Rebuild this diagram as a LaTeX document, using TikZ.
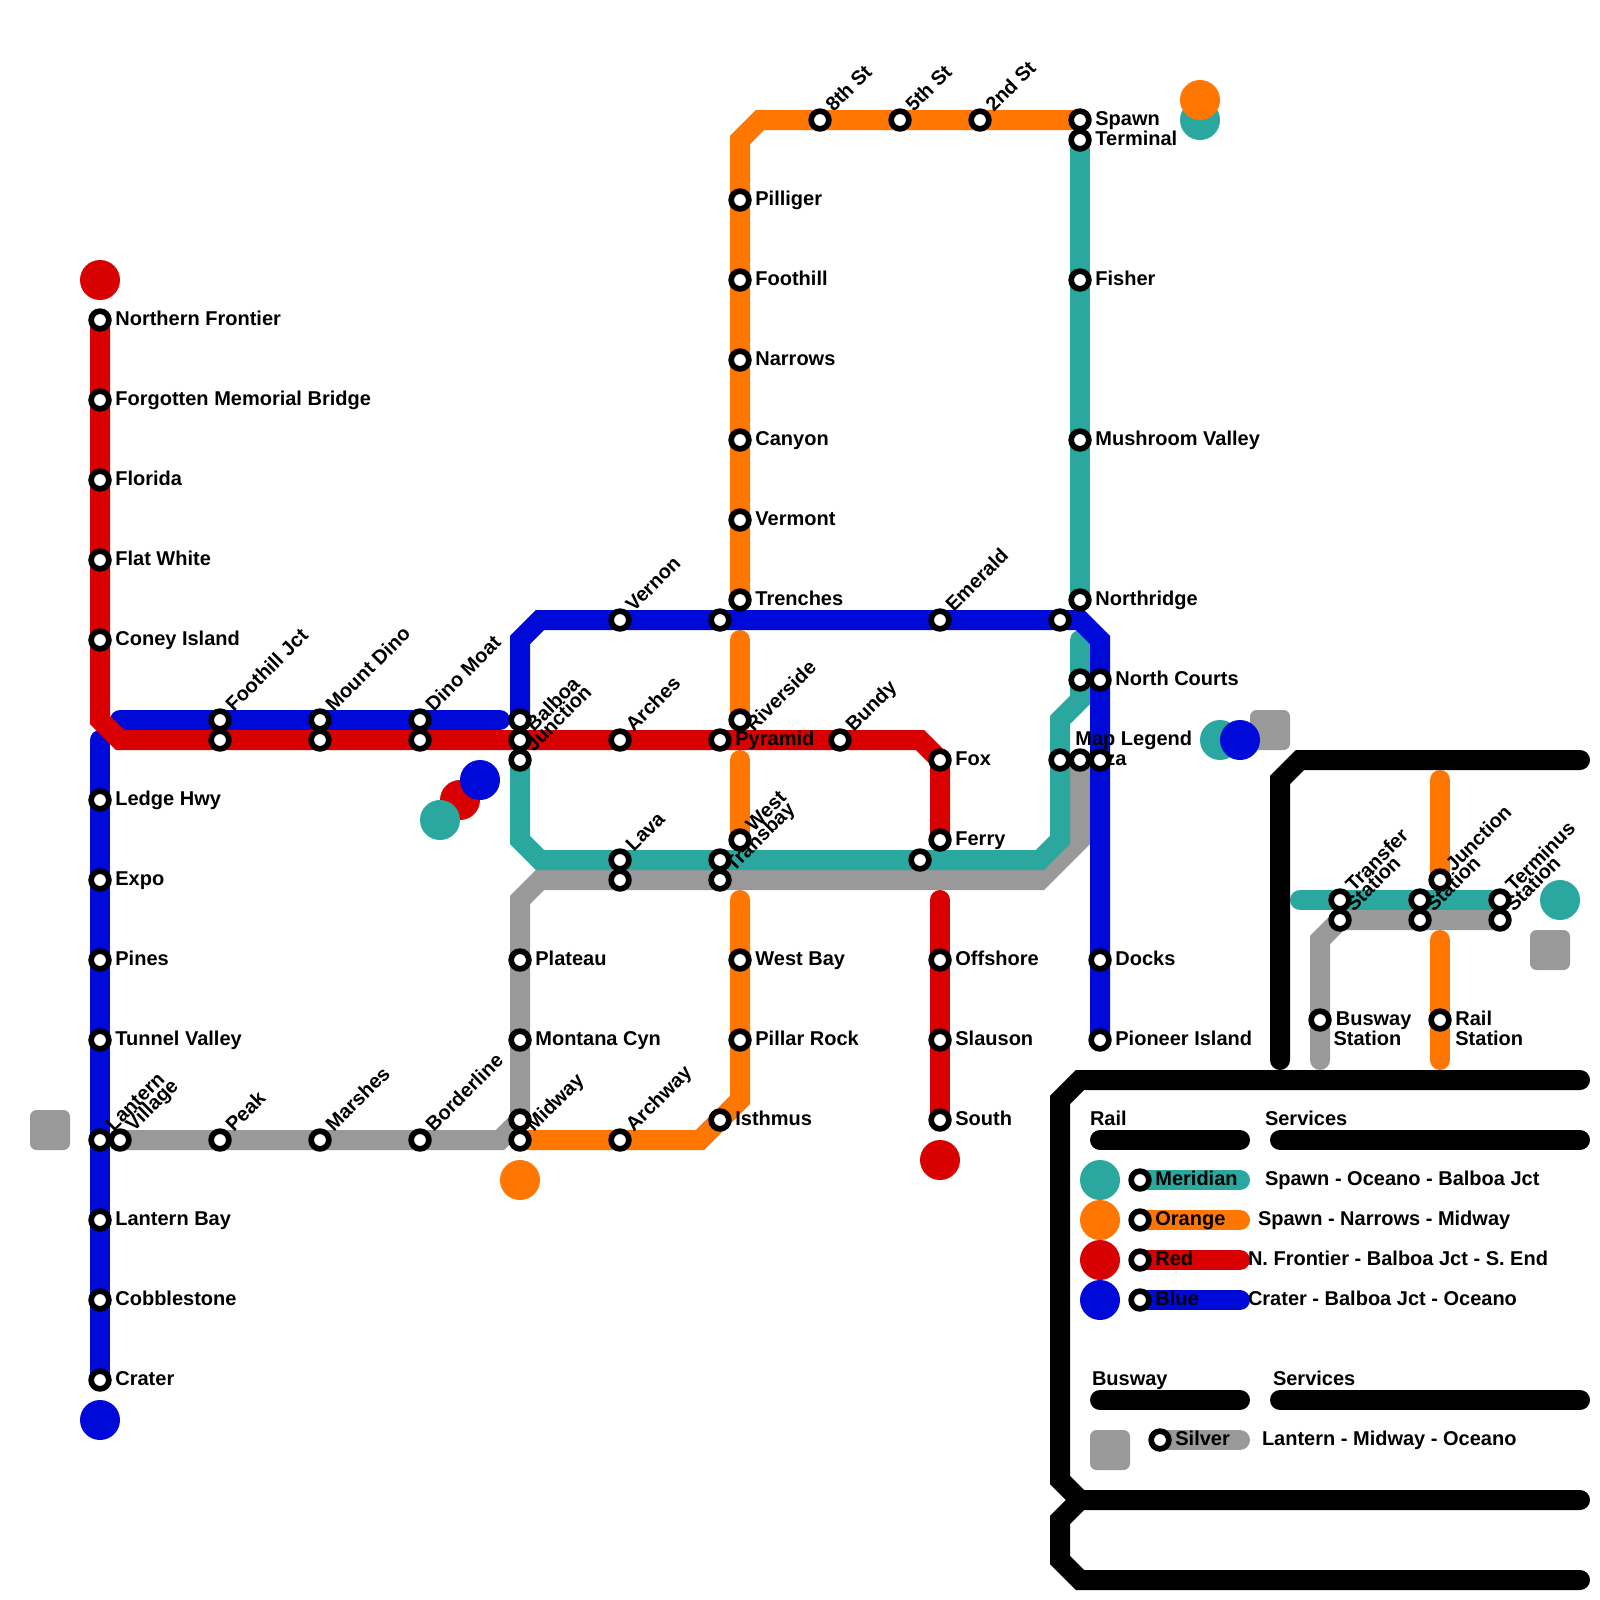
\documentclass[tikz,border=0pt]{standalone}
\usepackage{fontspec}
\setmainfont{Liberation Sans}
\pgfdeclarelayer{lines}
\pgfdeclarelayer{labels}
\pgfsetlayers{lines,labels,main}
\definecolor{cT}{HTML}{2AA8A0}
\definecolor{cO}{HTML}{FF7700}
\definecolor{cR}{HTML}{D80000}
\definecolor{cB}{HTML}{000AD8}
\definecolor{cG}{HTML}{999999}
\newcommand{\pxu}{0.0125cm}
\tikzset{
  x=0.25cm,y=-0.25cm,
  ln/.style={line width=0.25cm,line cap=round,line join=miter,miter limit=10},
  stn/.style={circle,draw=black,fill=white,line width=5.7*\pxu,minimum size=17.7*\pxu,inner sep=0pt,outer sep=0pt},
  txt/.style={font=\bfseries\fontsize{7.113}{8.5}\selectfont,text=black,inner sep=0pt,outer sep=0pt,anchor=base west},
  lblE/.style={txt,xshift=15.4*\pxu,yshift=-5.2*\pxu},
  lblD/.style={txt,xshift=13.8*\pxu,yshift=7.4*\pxu,rotate=45},
  lblS/.style={txt,xshift=15.4*\pxu,yshift=-25.2*\pxu},
  term/.style={circle,minimum size=0.5cm,inner sep=0pt,outer sep=0pt},
  sqr/.style={rectangle,rounded corners=6.5*\pxu,fill=cG,minimum size=0.5cm,inner sep=0pt,outer sep=0pt}
}
\newcommand{\st}[3]{\node[stn] (#1) at (#2,#3) {};}
\newcommand{\lE}[2]{\node[lblE] (l#1) at (#1.center) {#2};}
\newcommand{\lD}[2]{\node[lblD] (l#1) at (#1.center) {#2};}
\begin{document}
\begin{tikzpicture}
\useasboundingbox (0,0) rectangle (80,80);
% stations: red
\st{nf}{5}{16}\st{fmb}{5}{20}\st{flo}{5}{24}\st{flw}{5}{28}\st{con}{5}{32}
\st{fjr}{11}{37}\st{mdr}{16}{37}\st{dmr}{21}{37}\st{jun}{26}{37}\st{arc}{31}{37}\st{pyr}{36}{37}\st{bun}{42}{37}
\st{fox}{47}{38}\st{fer}{47}{42}\st{off}{47}{48}\st{sla}{47}{52}\st{sou}{47}{56}
% blue
\st{led}{5}{40}\st{exp}{5}{44}\st{pin}{5}{48}\st{tun}{5}{52}\st{lan}{5}{57}\st{lab}{5}{61}\st{cob}{5}{65}\st{cra}{5}{69}
\st{fjb}{11}{36}\st{mdb}{16}{36}\st{dmb}{21}{36}\st{bal}{26}{36}
\st{ver}{31}{31}\st{b36}{36}{31}\st{eme}{47}{31}\st{b53}{53}{31}
\st{nco}{55}{34}\st{pb}{55}{38}\st{doc}{55}{48}\st{pio}{55}{52}
% teal
\st{ter}{54}{7}\st{fis}{54}{14}\st{mus}{54}{22}\st{nor}{54}{30}\st{t54}{54}{34}\st{pla}{53}{38}
\st{t46}{46}{43}\st{tra}{36}{43}\st{lav}{31}{43}\st{t26}{26}{38}
% orange
\st{spa}{54}{6}\st{sec}{49}{6}\st{fif}{45}{6}\st{eig}{41}{6}
\st{pil}{37}{10}\st{foo}{37}{14}\st{nar}{37}{18}\st{can}{37}{22}\st{vmt}{37}{26}\st{tre}{37}{30}
\st{riv}{37}{36}\st{wes}{37}{42}\st{wba}{37}{48}\st{pro}{37}{52}\st{ist}{36}{56}
\st{arw}{31}{57}\st{o26}{26}{57}
% silver
\st{vil}{6}{57}\st{pea}{11}{57}\st{mar}{16}{57}\st{bor}{21}{57}\st{mid}{26}{56}
\st{mon}{26}{52}\st{pla2}{26}{48}\st{g31}{31}{44}\st{g36}{36}{44}\st{g54}{54}{38}
% key panel
\st{kt1}{67}{45}\st{kt2}{71}{45}\st{kt3}{75}{45}
\st{kg1}{67}{46}\st{kg2}{71}{46}\st{kg3}{75}{46}
\st{kj}{72}{44}\st{kbu}{66}{51}\st{kra}{72}{51}
% legend
\st{lgt}{57}{59}\st{lgo}{57}{61}\st{lgr}{57}{63}\st{lgb}{57}{65}\st{lgs}{58}{72}
% bends and free ends
\coordinate (tA) at (54,32);\coordinate (tB) at (54,35);\coordinate (tC) at (53,36);\coordinate (tD) at (53,42);\coordinate (tE) at (52,43);\coordinate (tF) at (27,43);\coordinate (tG) at (26,42);
\coordinate (oA) at (38,6);\coordinate (oB) at (37,7);\coordinate (oC) at (37,32);\coordinate (oD) at (37,38);\coordinate (oE) at (37,45);\coordinate (oF) at (37,55);\coordinate (oG) at (35,57);
\coordinate (gA) at (54,42);\coordinate (gB) at (52,44);\coordinate (gC) at (27,44);\coordinate (gD) at (26,45);\coordinate (gE) at (25,57);
\coordinate (bA) at (5,37);\coordinate (bB) at (6,36);\coordinate (bC) at (25,36);\coordinate (bD) at (26,32);\coordinate (bE) at (27,31);\coordinate (bF) at (54,31);\coordinate (bG) at (55,32);
\coordinate (rA) at (5,36);\coordinate (rB) at (6,37);\coordinate (rC) at (46,37);\coordinate (rD) at (47,45);
\coordinate (kA) at (79,38);\coordinate (kB) at (65,38);\coordinate (kC) at (64,39);\coordinate (kD) at (64,53);
\coordinate (koA) at (72,39);\coordinate (koB) at (72,47);\coordinate (koC) at (72,53);\coordinate (ktA) at (65,45);
\coordinate (kgA) at (66,47);\coordinate (kgB) at (66,53);
\coordinate (fA) at (79,54);\coordinate (fB) at (54,54);\coordinate (fC) at (53,55);\coordinate (fD) at (53,74);\coordinate (fE) at (54,75);\coordinate (fF) at (79,75);
\coordinate (fG) at (53,76);\coordinate (fH) at (53,78);\coordinate (fI) at (54,79);\coordinate (fJ) at (79,79);
\coordinate (hA) at (55,57);\coordinate (hB) at (62,57);\coordinate (hC) at (64,57);\coordinate (hD) at (79,57);
\coordinate (hE) at (55,70);\coordinate (hF) at (62,70);\coordinate (hG) at (64,70);\coordinate (hH) at (79,70);
\coordinate (eT) at (62,59);\coordinate (eO) at (62,61);\coordinate (eR) at (62,63);\coordinate (eB) at (62,65);\coordinate (eS) at (62,72);
\coordinate (mapl) at (53,37);
\coordinate (rivl) at (37,37);
\begin{pgfonlayer}{lines}
% silver
\draw[ln,cG] (g54.center) -- (gA) -- (gB) -- (gC) -- (gD) -- (mid.center) -- (gE) -- (vil.center);
\draw[ln,cG] (kg3.center) -- (kg1.center) -- (kgA) -- (kgB);
% teal
\draw[ln,cT] (ter.center) -- (nor.center);
\draw[ln,cT] (tA) -- (tB) -- (tC) -- (tD) -- (tE) -- (tF) -- (tG) -- (t26.center);
\draw[ln,cT] (ktA) -- (kt3.center);
% orange
\draw[ln,cO] (spa.center) -- (oA) -- (oB) -- (tre.center);
\draw[ln,cO] (oC) -- (riv.center);
\draw[ln,cO] (oD) -- (wes.center);
\draw[ln,cO] (oE) -- (oF) -- (oG) -- (o26.center);
\draw[ln,cO] (koA) -- (kj.center);
\draw[ln,cO] (koB) -- (koC);
% blue
\draw[ln,cB] (bA) -- (cra.center);
\draw[ln,cB] (bB) -- (bC);
\draw[ln,cB] (bal.center) -- (bD) -- (bE) -- (bF) -- (bG) -- (pio.center);
% red
\draw[ln,cR] (nf.center) -- (rA) -- (rB) -- (rC) -- (fox.center) -- (fer.center);
\draw[ln,cR] (rD) -- (sou.center);
% black
\draw[ln,black] (kA) -- (kB) -- (kC) -- (kD);
\draw[ln,black] (fA) -- (fB) -- (fC) -- (fD) -- (fE) -- (fF);
\draw[ln,black] (fE) -- (fG) -- (fH) -- (fI) -- (fJ);
\draw[ln,black] (hA) -- (hB);
\draw[ln,black] (hC) -- (hD);
\draw[ln,black] (hE) -- (hF);
\draw[ln,black] (hG) -- (hH);
% legend samples
\draw[ln,cT] (lgt.center) -- (eT);
\draw[ln,cO] (lgo.center) -- (eO);
\draw[ln,cR] (lgr.center) -- (eR);
\draw[ln,cB] (lgb.center) -- (eB);
\draw[ln,cG] (lgs.center) -- (eS);
% terminals
\node[term,fill=cR] (tmR1) at (5,14) {};
\node[term,fill=cB] (tmB1) at (5,71) {};
\node[term,fill=cR] (tmR2) at (47,58) {};
\node[term,fill=cO] (tmO1) at (26,59) {};
\node[term,fill=cR] (tmR3) at (23,40) {};
\node[term,fill=cB] (tmB2) at (24,39) {};
\node[term,fill=cT] (tmT1) at (22,41) {};
\node[term,fill=cT] (tmT2) at (60,6) {};
\node[term,fill=cO] (tmO2) at (60,5) {};
\node[sqr] (sqB) at (63.5,36.5) {};
\node[sqr] (sqA) at (2.5,56.5) {};
\node[term,fill=cT] (tmT3) at (61,37) {};
\node[term,fill=cB] (tmB3) at (62,37) {};
\node[term,fill=cT] (tmT4) at (78,45) {};
\node[sqr] (sqC) at (77.5,47.5) {};
\node[term,fill=cT] (lcT) at (55,59) {};
\node[term,fill=cO] (lcO) at (55,61) {};
\node[term,fill=cR] (lcR) at (55,63) {};
\node[term,fill=cB] (lcB) at (55,65) {};
\node[sqr] (sqD) at (55.5,72.5) {};
\end{pgfonlayer}
\begin{pgfonlayer}{labels}
\lE{nf}{Northern Frontier}\lE{fmb}{Forgotten Memorial Bridge}\lE{flo}{Florida}\lE{flw}{Flat White}\lE{con}{Coney Island}
\lE{led}{Ledge Hwy}\lE{exp}{Expo}\lE{pin}{Pines}\lE{tun}{Tunnel Valley}\lE{lab}{Lantern Bay}\lE{cob}{Cobblestone}\lE{cra}{Crater}
\lD{lan}{Lantern}\lD{vil}{Village}\lD{pea}{Peak}\lD{mar}{Marshes}\lD{bor}{Borderline}\lD{o26}{Midway}\lD{arw}{Archway}
\lD{fjb}{Foothill Jct}\lD{mdb}{Mount Dino}\lD{dmb}{Dino Moat}\lD{jun}{Balboa}\lD{t26}{Junction}
\lD{ver}{Vernon}\lD{arc}{Arches}\lD{lav}{Lava}\lD{g36}{Transbay}\lD{wes}{West}\node[lblD] (lriv) at (rivl) {Riverside};\lD{bun}{Bundy}\lD{eme}{Emerald}
\lD{eig}{8th St}\lD{fif}{5th St}\lD{sec}{2nd St}
\lE{pyr}{Pyramid}\lE{fox}{Fox}\lE{fer}{Ferry}\lE{off}{Offshore}\lE{sla}{Slauson}\lE{sou}{South}
\lE{pil}{Pilliger}\lE{foo}{Foothill}\lE{nar}{Narrows}\lE{can}{Canyon}\lE{vmt}{Vermont}\lE{tre}{Trenches}
\lE{wba}{West Bay}\lE{pro}{Pillar Rock}\lE{ist}{Isthmus}\lE{pla2}{Plateau}\lE{mon}{Montana Cyn}
\lE{spa}{Spawn}\lE{ter}{Terminal}\lE{fis}{Fisher}\lE{mus}{Mushroom Valley}\lE{nor}{Northridge}
\lE{nco}{North Courts}\lE{pla}{Plaza}\lE{doc}{Docks}\lE{pio}{Pioneer Island}
\node[lblE] (lmap) at (mapl) {Map Legend};
\lD{kt1}{Transfer}\lD{kg1}{Station}\lD{kj}{Junction}\lD{kg2}{Station}\lD{kt3}{Terminus}\lD{kg3}{Station}
\node[txt,xshift=15.9*\pxu,yshift=-5.2*\pxu] (lkbu) at (kbu.center) {Busway};\node[txt,xshift=13.6*\pxu,yshift=-25.2*\pxu] (lkbu2) at (kbu.center) {Station};
\lE{kra}{Rail}\node[lblS] (lkra2) at (kra.center) {Station};
\lE{lgt}{Meridian}\lE{lgo}{Orange}\lE{lgr}{Red}\lE{lgb}{Blue}\lE{lgs}{Silver}
\node[txt] (hRail) at (54.5,56.25) {Rail};
\node[txt] (hServ1) at (63.25,56.25) {Services};
\node[txt] (hBus) at (54.6,69.25) {Busway};
\node[txt] (hServ2) at (63.65,69.25) {Services};
\node[txt] (d1) at (63.25,59.25) {Spawn - Oceano - Balboa Jct};
\node[txt] (d2) at (62.9,61.25) {Spawn - Narrows - Midway};
\node[txt] (d3) at (62.4,63.25) {N. Frontier - Balboa Jct - S. End};
\node[txt] (d4) at (62.4,65.25) {Crater - Balboa Jct - Oceano};
\node[txt] (d5) at (63.1,72.25) {Lantern - Midway - Oceano};
\end{pgfonlayer}
\end{tikzpicture}
\end{document}
